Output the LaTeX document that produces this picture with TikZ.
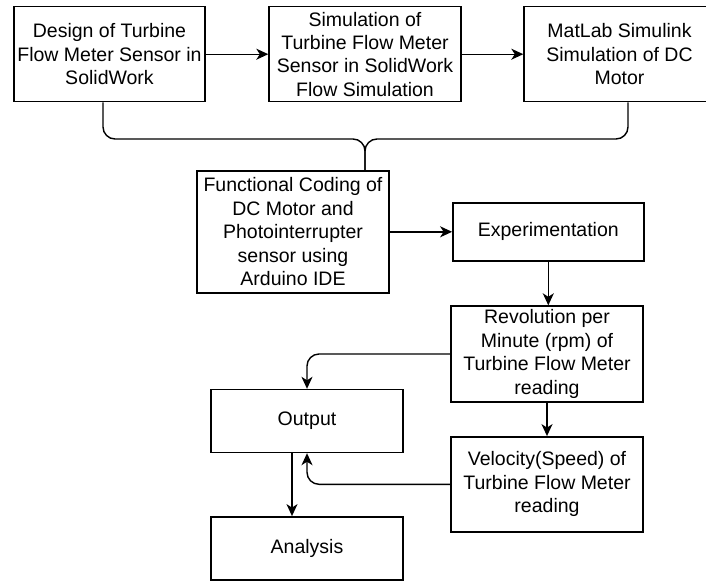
\documentclass[tikz,border=0pt]{standalone}
\usepackage{fontspec}
\setmainfont{Liberation Sans}
\usetikzlibrary{arrows.meta}
\begin{document}
\begin{tikzpicture}[x=1pt,y=-1pt,
  box/.style={draw,line width=1.4pt,inner sep=0pt,align=center,
    font=\fontsize{19.5}{23.4}\selectfont,minimum width=191pt},
  conn/.style={line width=1.4pt},
  arr/.style={conn,-{Stealth[length=12pt,width=11pt,inset=3.5pt]}}]
\fill[white] (0,0) rectangle (706,581);
\useasboundingbox (0,0) rectangle (706,581);
\node[box,minimum height=95pt] (b1) at (109.5,54.2) {Design of Turbine\\Flow Meter Sensor in\\SolidWork};
\node[box,minimum height=95pt,minimum width=192pt] (b2) at (365,54.2) {Simulation of\\Turbine Flow Meter\\Sensor in SolidWork\\Flow Simulation};
\node[box,minimum height=95pt] (b3) at (619.5,54.2) {MatLab Simulink\\Simulation of DC\\Motor};
\node[box,minimum height=122pt,minimum width=192pt] (fc) at (293,231.8) {Functional Coding of\\DC Motor and\\Photointerrupter\\sensor using\\Arduino IDE};
\node[box,minimum height=58pt] (ex) at (548.3,231.8) {Experimentation};
\node[box,minimum height=96pt,minimum width=192pt] (rv) at (547,354) {Revolution per\\Minute (rpm) of\\Turbine Flow Meter\\reading};
\node[box,minimum height=63pt,minimum width=192pt] (op) at (307,421) {Output};
\node[box,minimum height=95pt,minimum width=192pt] (vl) at (547,484.3) {Velocity(Speed) of\\Turbine Flow Meter\\reading};
\node[box,minimum height=63pt,minimum width=192pt] (an) at (307,548.3) {Analysis};
\coordinate (br) at (365,139);
\draw[arr] (b1.east) -- (b2.west);
\draw[arr] (b2.east) -- (b3.west);
\draw[conn,rounded corners=12pt] ([xshift=-6.5pt]b1.south) |- (br) -- (br |- fc.north);
\draw[conn,rounded corners=12pt] ([xshift=8.5pt]b3.south) |- (br) -- (br |- fc.north);
\draw[arr] (fc.east) -- (ex.west);
\draw[arr] (ex.south) -- (ex.south |- rv.north);
\draw[arr] (rv.south) -- (vl.north);
\draw[arr,rounded corners=12pt] (rv.west) -| (op.north);
\draw[arr,rounded corners=12pt] (vl.west) -| (op.south);
\draw[arr] ([xshift=-15pt]op.south) -- ([xshift=-15pt]an.north);
\end{tikzpicture}
\end{document}
